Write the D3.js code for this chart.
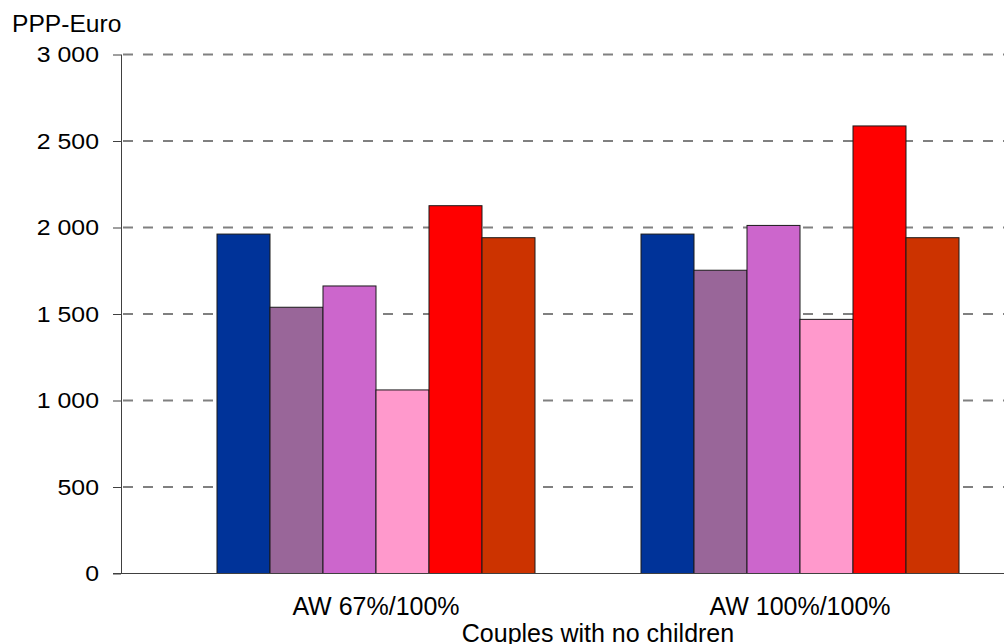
<!DOCTYPE html>
<html>
<head>
<meta charset="utf-8">
<script src="https://cdn.jsdelivr.net/npm/d3@7"></script>
<style>
  html, body { margin: 0; padding: 0; background: #fff; }
  svg { display: block; }
  text { font-family: "Liberation Sans", Arial, sans-serif; fill: #000; }
</style>
</head>
<body>
<svg id="chart" width="1004" height="644"></svg>
<script>
// Monthly amounts in PPP-Euro, couples with no children
const categories = ["AW 67%/100%", "AW 100%/100%"];
const seriesNames = ["s1", "s2", "s3", "s4", "s5", "s6"];
const seriesColors = ["#003399", "#996699", "#CC66CC", "#FF99CC", "#FF0000", "#CC3300"];
const values = [
  [1962, 1539, 1662, 1061, 2126, 1941],
  [1962, 1753, 2012, 1469, 2587, 1941]
];
const yTicks = [0, 500, 1000, 1500, 2000, 2500, 3000];
const yTitle = "PPP-Euro";
const xTitle = "Couples with no children";

const svg = d3.select("#chart");
const plot = { left: 121, right: 1055, top: 54.5, bottom: 573.5 };

const y = d3.scaleLinear().domain([0, 3000]).range([plot.bottom, plot.top]);
const x0 = d3.scaleBand().domain(categories)
  .range([plot.left, plot.right]).paddingInner(0.25).paddingOuter(0.2264);
const x1 = d3.scaleBand().domain(seriesNames).range([0, x0.bandwidth()]).padding(0);

const fmt = v => d3.format(",")(v).replace(/,/g, " ");

// dashed horizontal gridlines
svg.append("g").selectAll("line")
  .data(yTicks.filter(t => t > 0))
  .join("line")
  .attr("x1", plot.left + 2).attr("x2", 1004)
  .attr("y1", d => y(d)).attr("y2", d => y(d))
  .attr("stroke", "#808080").attr("stroke-width", 2)
  .attr("stroke-dasharray", "10,10");

// y axis
const tickStretch = 1.13;
const yAxis = svg.append("g")
  .attr("transform", `translate(${plot.left},0)`)
  .call(d3.axisLeft(y).tickValues(yTicks).tickFormat(fmt).tickSize(8).tickPadding(14));
yAxis.select(".domain").attr("stroke", "#404040").attr("d", `M0.5,${plot.top}V${plot.bottom}`);
yAxis.selectAll(".tick line").attr("stroke", "#404040").attr("x2", -8);
yAxis.selectAll(".tick text")
  .style("font-family", "'Liberation Sans', Arial, sans-serif")
  .style("font-size", "22px").attr("fill", "#000")
  .attr("x", -22 / tickStretch)
  .attr("transform", `scale(${tickStretch},1)`);

// bars
svg.append("g").selectAll("g")
  .data(values)
  .join("g")
  .attr("transform", (d, i) => `translate(${x0(categories[i])},0)`)
  .selectAll("rect")
  .data(d => d.map((v, j) => ({ v, j })))
  .join("rect")
  .attr("x", d => x1(seriesNames[d.j]))
  .attr("width", x1.bandwidth())
  .attr("y", d => y(d.v))
  .attr("height", d => y(0) - y(d.v))
  .attr("fill", d => seriesColors[d.j])
  .attr("stroke", "#1a1a1a").attr("stroke-width", 1);

// baseline
svg.append("line")
  .attr("x1", plot.left - 8).attr("x2", 1004)
  .attr("y1", y(0)).attr("y2", y(0))
  .attr("stroke", "#404040").attr("stroke-width", 1.2);

// category labels
svg.append("g").selectAll("text")
  .data(categories)
  .join("text")
  .attr("x", d => x0(d) + x0.bandwidth() / 2)
  .attr("y", 615)
  .attr("text-anchor", "middle")
  .style("font-size", "25px")
  .text(d => d);

// titles
svg.append("text").attr("transform", "translate(12,31.5) scale(1.07,1)")
  .style("font-size", "23px").text(yTitle);
svg.append("text").attr("x", 598).attr("y", 642)
  .attr("text-anchor", "middle").style("font-size", "25px").text(xTitle);
</script>
</body>
</html>
